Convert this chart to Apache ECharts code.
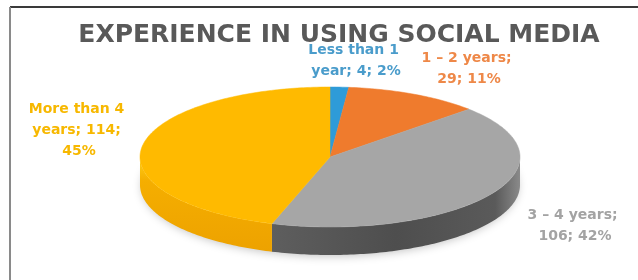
<!DOCTYPE html>
<html lang="en">
<head>
<meta charset="UTF-8">
<title>Experience in using social media</title>
<style>
  html, body { margin: 0; padding: 0; background: #fff; }
  #main { width: 638px; height: 280px; }
</style>
</head>
<body>
<div id="main"></div>
<script src="https://cdn.jsdelivr.net/npm/echarts@6/dist/echarts.min.js"></script>
<script>
  // data
  var categories = ['Less than 1 year', '1 – 2 years', '3 – 4 years', 'More than 4 years'];
  var counts = [4, 29, 106, 114];

  // colours per slice
  var topColors = ['#2E9BD8', '#EF7B2D', '#A6A6A6', '#FFBA00'];
  var labelColors = ['#4A9CCB', '#EE8848', '#A3A3A3', '#F7B800'];

  // flattened "3d" pie geometry (px)
  var cx = 330, cy = 157, rx = 190, ry = 70, depth = 28;
  var labelPos = [[356, 61], [469, 69], [575, 226], [79, 130]];
  var labelWidth = 104;

  var total = counts.reduce(function (s, v) { return s + v; }, 0);
  var slices = [];
  var acc = 0;
  counts.forEach(function (v) {
    slices.push([acc / total * 360, (acc + v) / total * 360]);
    acc += v;
  });

  // points on the ellipse, angle in degrees clockwise from 12 o'clock
  function arc(a0, a1, dy) {
    var pts = [];
    var n = Math.max(2, Math.ceil(Math.abs(a1 - a0)));
    for (var k = 0; k <= n; k++) {
      var t = (a0 + (a1 - a0) * k / n) * Math.PI / 180;
      pts.push([cx + rx * Math.sin(t), cy - ry * Math.cos(t) + dy]);
    }
    return pts;
  }

  function sideFill(i) {
    if (i === 3) {
      return new echarts.graphic.LinearGradient(0, 0, 0, 1, [
        { offset: 0, color: '#FFD21A' },
        { offset: 0.25, color: '#F5AE00' },
        { offset: 1, color: '#EDA200' }
      ]);
    }
    if (i === 2) {
      return new echarts.graphic.LinearGradient(0, 0, 1, 0, [
        { offset: 0, color: '#5E5E5E' },
        { offset: 0.5, color: '#4E4E4E' },
        { offset: 0.9, color: '#5A5A5A' },
        { offset: 1, color: '#8A8A8A' }
      ]);
    }
    return topColors[i];
  }

  function renderSlice(params, api) {
    var i = params.dataIndex;
    var a0 = api.value(0), a1 = api.value(1);
    var children = [];
    var s0 = Math.max(a0, 90), s1 = Math.min(a1, 270);
    if (s1 > s0) {
      children.push({
        type: 'polygon',
        shape: { points: arc(s0, s1, 0).concat(arc(s1, s0, depth)) },
        style: { fill: sideFill(i) },
        z2: 1
      });
    }
    children.push({
      type: 'polygon',
      shape: { points: [[cx, cy]].concat(arc(a0, a1, 0)) },
      style: { fill: topColors[i], stroke: topColors[i], lineWidth: 0.5 },
      z2: 2
    });
    var pct = Math.round(counts[i] / total * 100);
    children.push({
      type: 'text',
      x: labelPos[i][0],
      y: labelPos[i][1],
      style: {
        text: categories[i] + '; ' + counts[i] + '; ' + pct + '%',
        fill: labelColors[i],
        fontFamily: 'DejaVu Sans',
        fontWeight: 'bold',
        fontSize: 14,
        lineHeight: 21,
        width: labelWidth,
        overflow: 'break',
        align: 'center',
        verticalAlign: 'middle'
      },
      z2: 3
    });
    return { type: 'group', children: children };
  }

  var chart = echarts.init(document.getElementById('main'));
  chart.setOption({
    animation: false,
    title: {
      text: 'EXPERIENCE IN USING SOCIAL MEDIA',
      left: 334,
      textAlign: 'center',
      top: 18,
      textStyle: {
        fontFamily: 'DejaVu Sans',
        fontWeight: 'bold',
        fontSize: 25,
        color: '#595959'
      }
    },
    graphic: [
      { type: 'line', shape: { x1: 10, y1: 7, x2: 638, y2: 7 }, style: { stroke: '#3A3A3A', lineWidth: 2 } },
      { type: 'line', shape: { x1: 10, y1: 7, x2: 10, y2: 280 }, style: { stroke: '#8A8A8A', lineWidth: 2 } },
      {
        type: 'ellipse',
        shape: { cx: cx, cy: cy + depth - 2, rx: rx - 2, ry: ry },
        style: { fill: '#fff', shadowBlur: 10, shadowColor: 'rgba(0,0,0,0.25)', shadowOffsetY: 3 },
        z: -1
      }
    ],
    series: [{
      type: 'custom',
      coordinateSystem: 'none',
      renderItem: renderSlice,
      data: slices
    }]
  });
</script>
</body>
</html>
